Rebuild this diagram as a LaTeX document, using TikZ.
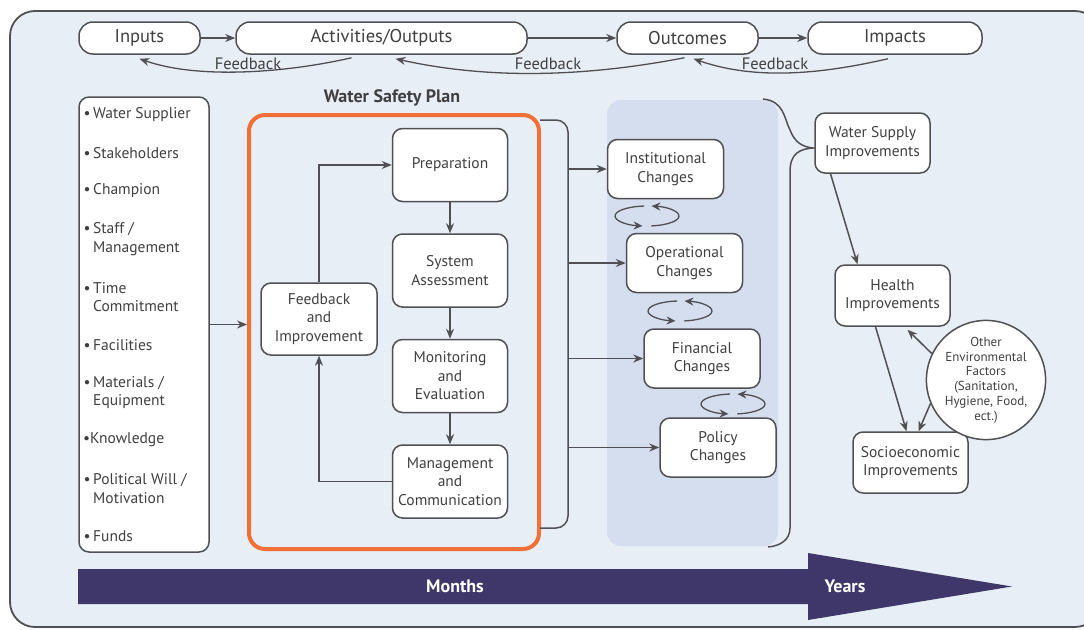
\documentclass[tikz,border=0pt]{standalone}
\usepackage{fontspec}
\setmainfont{PT Sans}
\usetikzlibrary{positioning,arrows.meta,calc}
\definecolor{bgclr}{RGB}{232,238,245}
\definecolor{panelclr}{RGB}{213,222,238}
\definecolor{lineclr}{RGB}{80,80,84}
\definecolor{txtclr}{RGB}{64,64,66}
\definecolor{wspclr}{RGB}{240,112,56}
\definecolor{timeclr}{RGB}{63,54,105}
\newcommand{\wspfont}{\fontsize{15.5}{18.5}\selectfont}
\newcommand{\rowfont}{\fontsize{18.5}{20}\selectfont}
\tikzset{
    box/.style={draw=lineclr,fill=white,line width=1.5pt,rounded corners=10pt,
                align=center,text=txtclr,inner sep=2pt,font=\wspfont},
    pill/.style={box,rounded corners=14pt,minimum height=32pt,font=\rowfont},
    stagebox/.style={box,minimum width=115pt,minimum height=73pt},
    chgbox/.style={box,minimum width=116pt,minimum height=59pt},
    impbox/.style={box,minimum width=115pt,minimum height=61pt},
    item/.style={anchor=west,align=left,text=txtclr,inner sep=0pt,font=\wspfont},
    edge/.style={-{Stealth[length=10pt,width=8pt]},line width=1.5pt,draw=lineclr},
    fb/.style={edge,line width=1.3pt},
    cyc/.style={-{Stealth[length=9pt,width=8pt]},line width=1.3pt,draw=lineclr},
    fblabel/.style={text=txtclr,font=\fontsize{16.5}{18}\selectfont,inner sep=1pt},
    timelabel/.style={text=white,font=\fontsize{18}{20}\selectfont\bfseries},
}
\newcommand{\bul}{\llap{\textbullet\,}}

\begin{document}
\begin{tikzpicture}[x=1pt,y=-1pt]
\useasboundingbox (0,0) rectangle (1084,629);
\clip (0,0) rectangle (1084,629);
% frame
\draw[lineclr,fill=bgclr,line width=1.8pt,rounded corners=25pt] (10,11) rectangle (1100,627);

% logic model row
\node[pill,minimum width=121pt] (inp)  at (139.5,38) {Inputs};
\node[pill,minimum width=291pt] (act)  at (381.5,38) {Activities/Outputs};
\node[pill,minimum width=141pt] (outc) at (687.5,38) {Outcomes};
\node[pill,minimum width=174pt] (imp)  at (895,38)   {Impacts};
\draw[fb] (inp) -- (act);
\draw[fb] (act) -- (outc);
\draw[fb] (outc) -- (imp);
\draw[fb] ([xshift=-30pt,yshift=-3pt]act.south) .. controls (290,72) and (200,80) .. ([yshift=-4pt]inp.south);
\draw[fb] ([xshift=-3pt,yshift=-3pt]outc.south) .. controls (600,74) and (500,82) .. ([xshift=14pt,yshift=-4pt]act.south);
\draw[fb] ([xshift=-7pt,yshift=-4pt]imp.south) .. controls (830,72) and (760,82) .. ([xshift=6pt,yshift=-4pt]outc.south);
\node[fblabel] (fb1) at (248,64) {Feedback};
\node[fblabel] (fb2) at (548,64) {Feedback};
\node[fblabel] (fb3) at (775,64) {Feedback};

% inputs list
\node[box,minimum width=130pt,minimum height=455pt] (res) at (144,324.5) {};
\node[item] (it1)  at (93,115)   {\bul Water Supplier};
\node[item] (it2)  at (93,153)   {\bul Stakeholders};
\node[item] (it3)  at (93,191)   {\bul Champion};
\node[item] (it4)  at (93,239)   {\bul Staff /\\Management};
\node[item] (it5)  at (93,297)   {\bul Time\\Commitment};
\node[item] (it6)  at (93,345)   {\bul Facilities};
\node[item] (it7)  at (93,392.5) {\bul Materials /\\Equipment};
\node[item] (it8)  at (90,440)   {\llap{\textbullet}Knowledge};
\node[item] (it9)  at (93,488.5) {\bul Political Will /\\Motivation};
\node[item] (it10) at (93,536)   {\bul Funds};

% water safety plan
\node[draw=wspclr,line width=4pt,rounded corners=16pt,minimum width=290pt,minimum height=434pt] (wsp) at (394,332) {};
\node[text=txtclr,font=\fontsize{18}{20}\selectfont\bfseries] (wsptitle) at (392,98) {Water Safety Plan};
\draw[edge] (res.east) -- (res.east -| wsp.west);
\node[stagebox] (prep) at (450,165) {Preparation};
\node[stagebox,below=31pt of prep] (sa) {System\\Assessment};
\node[stagebox,below=31pt of sa] (me) {Monitoring\\and\\Evaluation};
\node[stagebox,below=31pt of me] (mc) {Management\\and\\Communication};
\node[stagebox,minimum width=116pt,minimum height=72pt] (fbi) at (319,319) {Feedback\\and\\Improvement};
\draw[edge] (prep) -- (sa);
\draw[edge] (sa) -- (me);
\draw[edge] (me) -- (mc);
\draw[edge] (mc.west) -| (fbi.south);
\draw[edge] (fbi.north) |- (prep.west);

% bracket to changes
\draw[lineclr,line width=1.5pt,rounded corners=12pt] (540,120) -- (568,120) -- (568,528) -- (540,528);
\coordinate (br) at (568,0);
\node[fill=panelclr,rounded corners=14pt,minimum width=171pt,minimum height=446pt] (panel) at (692.5,323) {};
\node[chgbox] (inst) at (665.5,169)   {Institutional\\Changes};
\node[chgbox] (oper) at (684.5,263)   {Operational\\Changes};
\node[chgbox] (fin)  at (702,358.5)   {Financial\\Changes};
\node[chgbox] (pol)  at (718,447.5)   {Policy\\Changes};
\draw[edge,line width=2.2pt] (br |- inst.west) -- (inst.west);
\draw[edge] (br |- oper.west) -- (oper.west);
\draw[edge] (br |- fin.west) -- (fin.west);
\draw[edge] (br |- pol.west) -- (pol.west);
\foreach \cx/\cy in {647/216, 680/311, 733/404}{
  \draw[cyc] ($(\cx,\cy)+(95:32pt and 10pt)$) arc[start angle=95,end angle=262,x radius=32pt,y radius=10pt];
  \draw[cyc] ($(\cx,\cy)+(278:32pt and 10pt)$) arc[start angle=278,end angle=442,x radius=32pt,y radius=10pt];
}

% brace to impacts
\draw[lineclr,line width=1.5pt] (763,99) .. controls (784,101) and (784,118) .. (790,130)
  .. controls (795,143) and (803,147) .. (813,148)
  .. controls (800,149) and (790,153) .. (790,172) -- (790,528)
  .. controls (790,540) and (780,546) .. (768,547);

% impacts chain
\node[impbox,minimum height=60pt] (wsi) at (872.5,143) {Water Supply\\Improvements};
\node[impbox] (hlth) at (892.5,295.5) {Health\\Improvements};
\node[impbox] (soc)  at (910.5,462.5) {Socioeconomic\\Improvements};
\node[draw=lineclr,fill=white,line width=1.5pt,circle,minimum size=108pt,inner sep=0pt,align=center,
      text=txtclr,font=\fontsize{13}{14.8}\selectfont] (oef) at (986,380)
      {Other\\Environmental\\Factors\\(Sanitation,\\Hygiene, Food,\\ect.)};
\draw[edge] ([xshift=-42pt]wsi.south) -- ([xshift=-35pt]hlth.north);
\draw[edge] ([xshift=-17pt]hlth.south) -- ([xshift=-4pt]soc.north);
\draw[edge] (oef.154) -- ([xshift=15pt,yshift=-3pt]hlth.south);
\draw[edge] (oef.203) -- ([xshift=8pt]soc.north);

% time arrow
\fill[timeclr] (78,569) -- (808,569) -- (808,553) -- (1012,586.5) -- (808,620) -- (808,604) -- (78,604) -- cycle;
\node[timelabel] (months) at (455,586) {Months};
\node[timelabel] (years) at (845,586) {Years};
\end{tikzpicture}
\end{document}
